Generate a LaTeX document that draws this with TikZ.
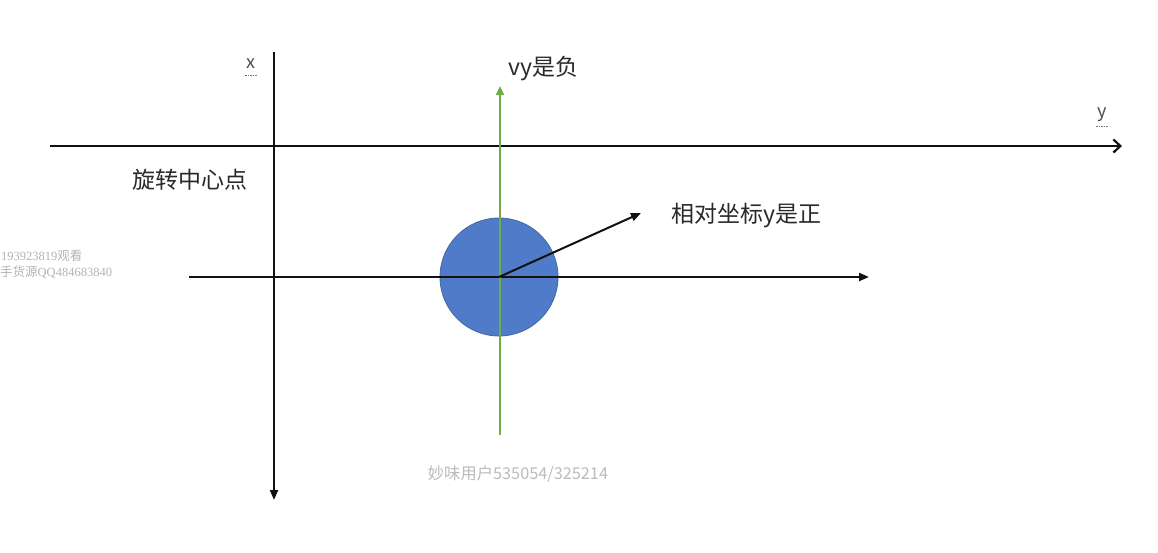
\documentclass[tikz,border=0pt]{standalone}
\usepackage{fontspec}
\setmainfont{Noto Sans CJK SC}
\newfontfamily\wmfont{Liberation Serif}
\newfontfamily\cjkfont{Noto Sans CJK SC}
\usetikzlibrary{arrows.meta}
\definecolor{axisblack}{HTML}{111111}
\definecolor{vgreen}{HTML}{70AD47}
\definecolor{cfill}{HTML}{4F7BC8}
\definecolor{cedge}{HTML}{41679F}
\definecolor{wmgray}{HTML}{B4B4B4}
\tikzset{
  axis/.style={draw=axisblack, line width=2.2pt, -{Triangle[length=10pt,width=8pt]}},
  topaxis/.style={draw=axisblack, line width=2.2pt, -{Straight Barb[length=7pt,width=13pt,line width=2.2pt]}},
  greenline/.style={draw=vgreen, line width=2.2pt, -{Triangle[length=9pt,width=8pt]}},
  lbl/.style={font=\fontsize{23}{26}\selectfont, text=axisblack!90, inner sep=0pt},
  axlbl/.style={font=\fontsize{18}{20}\selectfont, text=axisblack!75, inner sep=0pt},
  wm/.style={font=\fontsize{16.3}{18}\selectfont, text=wmgray!90, inner sep=0pt},
  wml/.style={font=\wmfont\fontsize{12.5}{15}\selectfont, text=wmgray, inner sep=0pt, anchor=west}
}
\begin{document}
\begin{tikzpicture}[x=1pt,y=-1pt]
\useasboundingbox[fill=white] (0,0) rectangle (1158,552);
% coordinates
\coordinate (vtop) at (274,52);
\coordinate (vbot) at (274,500);
\coordinate (htl) at (50,146);
\coordinate (htr) at (1122,146);
\coordinate (hll) at (189,277);
\coordinate (hlr) at (869,277);
\coordinate (gbot) at (500,435);
\coordinate (gtop) at (500,86);
\coordinate (rel) at (641,213);
% circle
\node[circle, minimum size=118pt, inner sep=0pt, fill=cfill, draw=cedge, line width=0.8pt] (ball) at (499,277) {};
% axes
\draw[axis] (vtop) -- (vbot);
\draw[topaxis] (htl) -- (htr);
\draw[axis] (hll) -- (hlr);
\draw[greenline] (gbot) -- (gtop);
\draw[axis, line width=2pt] (ball.center) -- (rel);
% labels
\node[axlbl] (xl) at (251,64) {x};
\node[axlbl] (yl) at (1102,115) {y};
\draw[axisblack!60, line width=0.7pt, dash pattern=on 1.5pt off 1pt] (245,75) -- (257,75);
\draw[axisblack!60, line width=0.7pt, dash pattern=on 1.5pt off 1pt] (1096,126) -- (1108,126);
\node[lbl, anchor=west] (vy) at (508,69) {vy是负};
\node[lbl, anchor=west] (center) at (132,180) {旋转中心点};
\node[lbl, anchor=west] (relp) at (671,216) {相对坐标y是正};
% watermarks
\node[wml] (wm1) at (1,256) {193923819{\cjkfont 观看}};
\node[wml] (wm2) at (0,272) {{\cjkfont 手货源}QQ484683840};
\node[wm] (wm3) at (518,474) {妙味用户535054/325214};
\end{tikzpicture}
\end{document}
